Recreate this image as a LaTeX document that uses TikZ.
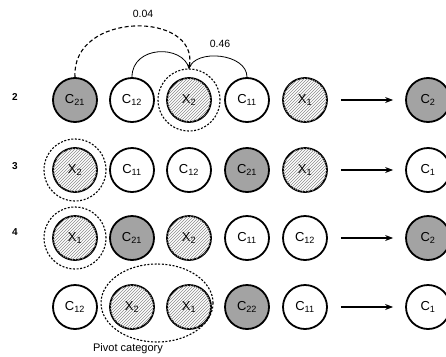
\documentclass[tikz,border=0pt]{standalone}
\usepackage{fontspec}
\setmainfont{Liberation Sans}
\usetikzlibrary{patterns,arrows.meta,shapes.geometric,calc}
\newcommand{\lbl}[2]{#1\textsubscript{#2}}
\begin{document}
\begin{tikzpicture}[x=1pt,y=-1pt,
  cnode/.style={circle,draw=black,line width=1.8pt,minimum size=44pt,inner sep=0pt,font=\fontsize{13}{13}\selectfont},
  shaded/.style={cnode,fill=black!36},
  hatched/.style={cnode,fill=white,postaction={pattern=north east lines,pattern color=black!45}},
  ring/.style={circle,draw=black,line width=1.1pt,dash pattern=on 2pt off 1.6pt,minimum size=62pt,inner sep=0pt},
  rowlab/.style={font=\bfseries\fontsize{10}{10}\selectfont},
  numlab/.style={font=\fontsize{10.5}{10.5}\selectfont},
  flow/.style={line width=1.1pt,-{Stealth[length=8pt,width=6pt]},shorten <=13pt,shorten >=12pt}
]
\useasboundingbox (0,0) rectangle (446,356);
\clip (0,0) rectangle (446,356);

% row labels
\node[rowlab] (l2) at (15,97) {2};
\node[rowlab] (l3) at (15,166) {3};
\node[rowlab] (l4) at (15,232) {4};

% row 1 (y=100)
\node[shaded]  (a1) at (75,100) {\lbl{C}{21}};
\node[cnode]   (a2) at (132,100) {\lbl{C}{12}};
\node[hatched] (a3) at (189,100) {\lbl{X}{2}};
\node[cnode]   (a4) at (247,100) {\lbl{C}{11}};
\node[hatched] (a5) at (305,100) {\lbl{X}{1}};
\node[shaded]  (af) at (428,100) {\lbl{C}{2}};
\node[ring]    (ar) at (a3) {};

% row 2 (y=170)
\node[hatched] (b1) at (75,170) {\lbl{X}{2}};
\node[cnode]   (b2) at (132,170) {\lbl{C}{11}};
\node[cnode]   (b3) at (189,170) {\lbl{C}{12}};
\node[shaded]  (b4) at (247,170) {\lbl{C}{21}};
\node[hatched] (b5) at (305,170) {\lbl{X}{1}};
\node[cnode]   (bf) at (428,170) {\lbl{C}{1}};
\node[ring]    (br) at (b1) {};

% row 3 (y=238)
\node[hatched] (c1) at (75,238) {\lbl{X}{1}};
\node[shaded]  (c2) at (132,238) {\lbl{C}{21}};
\node[hatched] (c3) at (189,238) {\lbl{X}{2}};
\node[cnode]   (c4) at (247,238) {\lbl{C}{11}};
\node[cnode]   (c5) at (305,238) {\lbl{C}{12}};
\node[shaded]  (cf) at (428,238) {\lbl{C}{2}};
\node[ring]    (cr) at (c1) {};

% row 4 (y=307)
\node[cnode]   (d1) at (75,307) {\lbl{C}{12}};
\node[hatched] (d2) at (132,307) {\lbl{X}{2}};
\node[hatched] (d3) at (189,307) {\lbl{X}{1}};
\node[shaded]  (d4) at (247,307) {\lbl{C}{22}};
\node[cnode]   (d5) at (305,307) {\lbl{C}{11}};
\node[cnode]   (df) at (428,307) {\lbl{C}{1}};
\node[ellipse,draw=black,line width=1.1pt,dash pattern=on 2pt off 1.6pt,minimum width=112pt,minimum height=78pt,inner sep=0pt] (piv) at (157,303) {};
\node[font=\fontsize{11}{11}\selectfont] (pivlab) at (128,348.5) {Pivot category};

% arrows to results
\draw[flow] (a5) -- (af);
\draw[flow] (b5) -- (bf);
\draw[flow] (c5) -- (cf);
\draw[flow] (d5) -- (df);

% correlation arcs
\draw[line width=1.1pt,dash pattern=on 4pt off 2.5pt,-{Stealth[length=4pt,width=4pt]}]
  (a1.north) .. controls +(-4,-66) and +(10,-58) .. (ar.north);
\draw[line width=0.8pt] (a2.north) .. controls +(0,-32) and +(-6,-24) .. (ar.north);
\draw[line width=0.8pt] (ar.north) .. controls +(6,-20) and +(0,-24) .. (a4.north);
\node[numlab] (n04) at (143,14) {0.04};
\node[numlab] (n46) at (220,44) {0.46};
\end{tikzpicture}
\end{document}
